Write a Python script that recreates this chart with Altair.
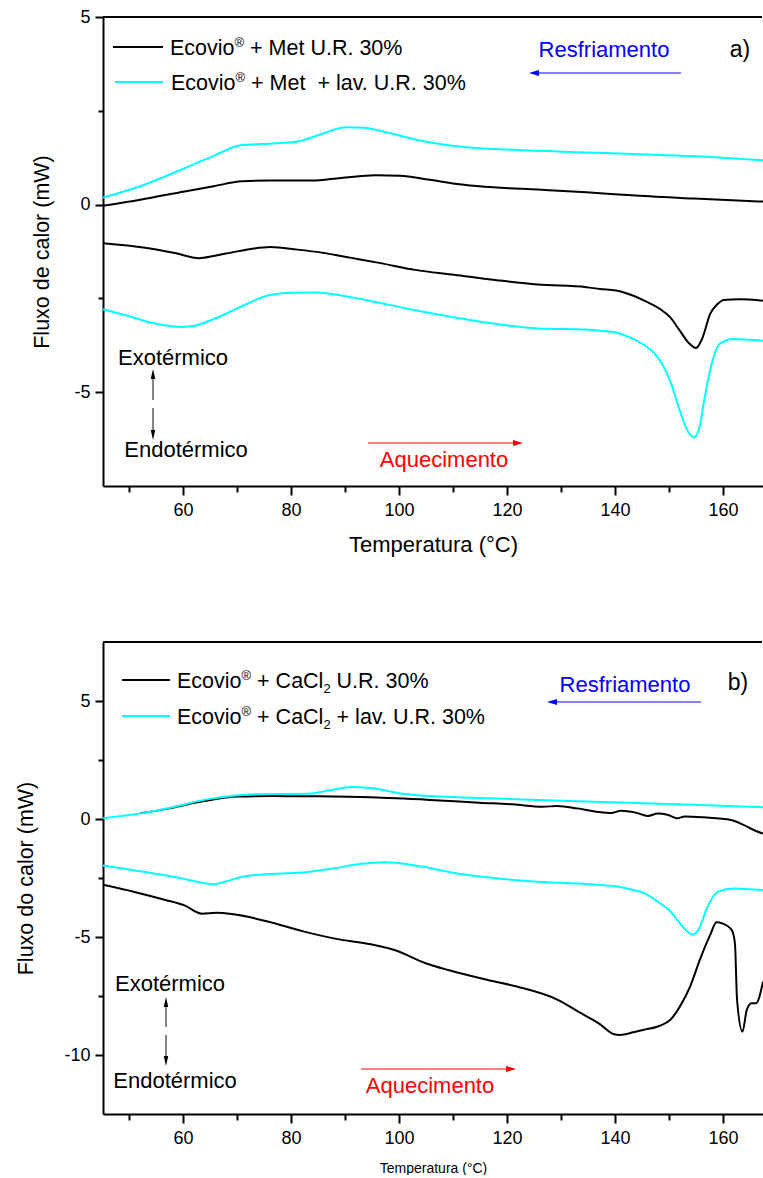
import altair as alt
import pandas as pd

FONT = "Liberation Sans"
BLACK, CYAN, BLUE, RED = "#000000", "#00ffff", "#0000ff", "#ff0000"

T_MIN, T_MAX = 45.2, 167.4
W = 660
HA, HB = 469, 472

# ---------------- panel a) ----------------
a_cool_met_T = [45.2, 52.1, 60.3, 65.7, 70.9, 75.7, 83.9, 89.3, 95.7, 100.2, 105.7, 112.0,
                117.5, 125.7, 134.7, 143.8, 154.7, 165.6, 167.4]
a_cool_met_Q = [-0.03, 0.13, 0.35, 0.49, 0.62, 0.64, 0.64, 0.71, 0.78, 0.77, 0.66, 0.53,
                0.46, 0.40, 0.33, 0.24, 0.16, 0.09, 0.08]
a_cool_lav_T = [45.2, 52.1, 60.3, 65.7, 70.7, 76.6, 81.2, 85.7, 90.2, 93.4, 98.4, 103.9,
                111.1, 121.1, 134.7, 148.4, 157.5, 167.4]
a_cool_lav_Q = [0.19, 0.49, 0.97, 1.30, 1.58, 1.63, 1.68, 1.88, 2.06, 2.05, 1.90, 1.71,
                1.55, 1.46, 1.39, 1.32, 1.27, 1.18]
a_heat_met_T = [45.2, 53.0, 58.5, 63.0, 65.7, 70.3, 76.2, 81.2, 85.7, 91.2, 96.6, 103.0,
                110.2, 118.4, 125.7, 134.7, 137.2, 140.2, 143.4, 146.0, 148.3, 150.2, 152.0,
                153.6, 155.0, 156.2, 157.6, 159.0, 160.1, 163.1, 167.4]
a_heat_met_Q = [-1.03, -1.15, -1.29, -1.43, -1.37, -1.24, -1.13, -1.20, -1.28, -1.42, -1.56, -1.74,
                -1.87, -2.02, -2.13, -2.20, -2.25, -2.29, -2.43, -2.60, -2.78, -3.00, -3.36,
                -3.68, -3.82, -3.55, -2.92, -2.65, -2.54, -2.52, -2.56]
a_heat_lav_T = [45.2, 49.4, 54.8, 59.8, 62.1, 65.7, 71.2, 75.7, 80.3, 84.8, 89.3, 94.8,
                101.1, 109.3, 117.5, 125.7, 134.7, 137.2, 140.5, 143.4, 145.5, 147.7, 150.2,
                152.0, 153.5, 154.6, 155.7, 156.4, 157.9, 159.4, 161.9, 167.4]
a_heat_lav_Q = [-2.79, -2.95, -3.17, -3.26, -3.23, -3.05, -2.69, -2.42, -2.35, -2.34, -2.42, -2.57,
                -2.76, -2.98, -3.17, -3.30, -3.33, -3.36, -3.42, -3.58, -3.75, -4.03, -4.69,
                -5.49, -6.05, -6.20, -5.90, -5.31, -4.25, -3.71, -3.58, -3.63]

# ---------------- panel b) ----------------
b_cool_cacl_T = [52.1, 57.5, 63.9, 70.3, 76.6, 84.8, 94.8, 105.7, 114.8, 121.1, 126.6, 129.3,
                 133.0, 136.6, 139.3, 141.1, 143.8, 146.1, 147.9, 149.7, 151.5, 152.9, 156.5,
                 161.5, 163.8, 166.1, 167.4]
b_cool_cacl_Q = [0.24, 0.45, 0.76, 0.95, 0.97, 0.96, 0.92, 0.81, 0.69, 0.62, 0.52, 0.55,
                 0.45, 0.31, 0.25, 0.35, 0.27, 0.13, 0.23, 0.18, 0.03, 0.11, 0.07,
                 -0.04, -0.25, -0.51, -0.62]
b_cool_lav_T = [45.2, 53.0, 58.5, 63.9, 69.4, 73.9, 83.0, 87.5, 91.2, 94.8, 101.1, 107.5,
                116.6, 125.7, 139.3, 152.9, 167.4]
b_cool_lav_Q = [0.03, 0.27, 0.52, 0.81, 0.99, 1.05, 1.07, 1.23, 1.36, 1.31, 1.06, 0.95,
                0.88, 0.81, 0.71, 0.61, 0.50]
b_heat_cacl_T = [45.2, 51.2, 56.6, 60.3, 63.5, 66.2, 69.4, 75.7, 82.1, 88.4, 94.8, 99.3,
                 104.8, 109.3, 116.6, 122.0, 129.3, 133.8, 137.2, 139.7, 140.9, 143.4, 145.2,
                 148.3, 150.2, 152.0, 153.9, 155.7, 157.6, 158.8, 159.8, 161.6, 162.2, 162.6,
                 163.6, 164.4, 165.3, 166.1, 167.4]
b_heat_cacl_Q = [-2.79, -3.10, -3.42, -3.66, -4.01, -3.97, -4.04, -4.34, -4.75, -5.08, -5.31, -5.56,
                 -6.10, -6.41, -6.83, -7.11, -7.65, -8.24, -8.69, -9.11, -9.15, -9.04, -8.94,
                 -8.76, -8.52, -7.95, -7.10, -5.97, -4.92, -4.38, -4.42, -4.70, -5.27, -7.67,
                 -9.01, -8.09, -7.81, -7.81, -6.89]
b_heat_lav_T = [45.2, 53.0, 60.3, 63.5, 65.7, 67.5, 71.2, 74.8, 82.1, 87.5, 93.0, 97.5,
                103.0, 111.1, 119.3, 127.5, 134.7, 137.2, 140.2, 143.4, 145.5, 148.3, 150.2,
                152.0, 154.4, 155.6, 157.0, 159.1, 161.9, 167.4]
b_heat_lav_Q = [-1.97, -2.25, -2.54, -2.70, -2.77, -2.68, -2.44, -2.35, -2.27, -2.11, -1.90, -1.83,
                -1.97, -2.32, -2.54, -2.68, -2.75, -2.80, -2.85, -3.01, -3.15, -3.57, -3.90,
                -4.42, -4.90, -4.63, -3.78, -3.08, -2.94, -3.01]

x_major = [60, 80, 100, 120, 140, 160]
x_minor = [50, 70, 90, 110, 130, 150]
a_y_major = [5, 0, -5]
a_y_minor = [2.5, -2.5]
b_y_major = [5, 0, -5, -10]
b_y_minor = [2.5, -2.5, -7.5]

legend_a1 = ["Ecovio", "®", " + Met U.R. 30%"]
legend_a2 = ["Ecovio", "®", " + Met", "  + lav. U.R. 30%"]
legend_b1 = ["Ecovio", "®", " + CaCl", "2", " U.R. 30%"]
legend_b2 = ["Ecovio", "®", " + CaCl", "2", " + lav. U.R. 30%"]

# Arial / Liberation Sans advance widths (per 1000 em)
ADV = {' ': 278, '+': 584, '.': 278, '%': 889, '0': 556, '2': 556, '3': 556,
       'A': 667, 'C': 722, 'E': 667, 'M': 833, 'R': 722, 'U': 722,
       'a': 556, 'c': 500, 'e': 556, 'i': 222, 'l': 222, 'm': 833, 'n': 556,
       'o': 556, 'r': 333, 's': 500, 't': 278, 'u': 556, 'v': 500, '®': 737}


def tw(s, size):
    return sum(ADV.get(ch, 556) for ch in s) * size / 1000.0


ONE = pd.DataFrame({"k": [0]})


def txt(x, y, s, size, color=BLACK, align="center", baseline="middle"):
    return alt.Chart(ONE).mark_text(text=s, font=FONT, fontSize=size, color=color,
                                    align=align, baseline=baseline).encode(
        x=alt.value(x), y=alt.value(y))


def seg(x1, x2, y1, y2, color=BLACK, width=2.0):
    return alt.Chart(ONE).mark_rule(color=color, strokeWidth=width).encode(
        x=alt.value(x1), x2=alt.value(x2), y=alt.value(y1), y2=alt.value(y2))


HEAD_L = "M-1,0L1,-0.6L1,0.6Z"
HEAD_R = "M1,0L-1,-0.6L-1,0.6Z"
HEAD_U = "M0,-1L-0.45,1L0.45,1Z"
HEAD_D = "M0,1L-0.45,-1L0.45,-1Z"


def head(x, y, shape, color=BLACK, size=100):
    return alt.Chart(ONE).mark_point(shape=shape, filled=True, size=size, color=color,
                                     opacity=1, strokeWidth=0).encode(
        x=alt.value(x), y=alt.value(y))


LEG = 21.5
SUP = 13
ANN = 22


def legend_row(xl0, xl1, y, color, xt, parts, kinds):
    out = [seg(xl0, xl1, y, y, color, 2)]
    x = xt
    base = y + 7.5
    for s, kind in zip(parts, kinds):
        size = LEG if kind == "n" else SUP
        dy = 0 if kind == "n" else (-8 if kind == "sup" else 5)
        lead = len(s) - len(s.lstrip(' '))
        core = s.strip(' ')
        x += tw(' ' * lead, size)
        out.append(txt(x, base + dy, core, size, align="left", baseline="alphabetic"))
        x += tw(core, size)
    return out


def direction_block(cx, exo_xy, endo_xy, up_tip, up_end, dn_start, dn_tip,
                    heat_x0, heat_x1, heat_y, heat_txt_xy,
                    cool_x0, cool_x1, cool_y, cool_txt_xy, tag, tag_xy):
    L = []
    L.append(txt(exo_xy[0], exo_xy[1], "Exotérmico", ANN))
    L.append(txt(endo_xy[0], endo_xy[1], "Endotérmico", ANN))
    L.append(seg(cx, cx, up_tip + 8, up_end, "#333333", 1.2))
    L.append(head(cx, up_tip + 5, HEAD_U))
    L.append(seg(cx, cx, dn_start, dn_tip - 8, "#333333", 1.2))
    L.append(head(cx, dn_tip - 5, HEAD_D))
    L.append(seg(heat_x0, heat_x1 - 8, heat_y, heat_y, "#ff5050", 1.6))
    L.append(head(heat_x1 - 5, heat_y, HEAD_R, RED))
    L.append(txt(heat_txt_xy[0], heat_txt_xy[1], "Aquecimento", ANN, RED))
    L.append(seg(cool_x0 + 8, cool_x1, cool_y, cool_y, "#5a5aff", 1.6))
    L.append(head(cool_x0 + 5, cool_y, HEAD_L, BLUE))
    L.append(txt(cool_txt_xy[0], cool_txt_xy[1], "Resfriamento", ANN, BLUE))
    L.append(txt(tag_xy[0], tag_xy[1], tag, 23))
    return L


def panel(series, ydom, H, ymaj, ymin, ytitle, ytitle_x, xtitle, xtitle_size, xtitle_y, extras):
    xs = alt.Scale(domain=[T_MIN, T_MAX], nice=False, zero=False)
    ys = alt.Scale(domain=ydom, nice=False, zero=False)
    x_main = alt.Axis(values=x_major, title=xtitle, titleFontSize=xtitle_size, titleY=xtitle_y,
                      titleBaseline="alphabetic", tickSize=9, labelPadding=6, grid=False,
                      orient="bottom", format="d")
    y_main = alt.Axis(values=ymaj, title=ytitle, titleFontSize=21.5, titleX=ytitle_x, titleY=H / 2,
                      titleBaseline="alphabetic", titleAngle=270, titleAlign="center",
                      tickSize=8, labelPadding=5, grid=False, orient="left",
                      labelExpr="'' + datum.value")
    x_min = alt.Axis(values=x_minor, labels=False, tickSize=6, domain=False, grid=False,
                     title=None, orient="bottom")
    y_min = alt.Axis(values=ymin, labels=False, tickSize=5, domain=False, grid=False,
                     title=None, orient="left")
    layers = []
    T0, Q0, _ = series[0]
    d0 = pd.DataFrame({"T": T0, "Q": Q0})
    layers.append(alt.Chart(d0).mark_line(opacity=0).encode(
        x=alt.X("T:Q", scale=xs, axis=x_min), y=alt.Y("Q:Q", scale=ys, axis=y_min)))
    for i, (T, Q, color) in enumerate(series):
        d = pd.DataFrame({"T": T, "Q": Q})
        layers.append(alt.Chart(d).mark_line(color=color, strokeWidth=2, interpolate="monotone",
                                             clip=True).encode(
            x=alt.X("T:Q", scale=xs, axis=x_main if i == 0 else None),
            y=alt.Y("Q:Q", scale=ys, axis=y_main if i == 0 else None)))
    layers.append(seg(0, W - 1, 0, 0, BLACK, 2))
    layers.extend(extras)
    return alt.layer(*layers).resolve_axis(x="independent", y="independent").properties(
        width=W, height=H)


extras_a = []
extras_a += legend_row(10, 60, 30, BLACK, 67, legend_a1, ["n", "sup", "n"])
extras_a += legend_row(12, 60, 65, CYAN, 68, legend_a2, ["n", "sup", "n", "n"])
extras_a += direction_block(50, (70, 341), (83, 433), 352, 383, 391, 423,
                            265, 420, 426, (341, 443),
                            426, 578, 56, (501, 33), "a)", (637, 33))

extras_b = []
extras_b += legend_row(19, 67, 38, BLACK, 74, legend_b1, ["n", "sup", "n", "sub", "n"])
extras_b += legend_row(19, 67, 74, CYAN, 74, legend_b2, ["n", "sup", "n", "sub", "n"])
extras_b += direction_block(63, (67, 342), (72, 439), 355, 385, 393, 424,
                            258, 413, 427, (327, 444),
                            444, 598, 60, (522, 43), "b)", (635, 41))

pa = panel([(a_cool_met_T, a_cool_met_Q, BLACK), (a_heat_met_T, a_heat_met_Q, BLACK),
            (a_cool_lav_T, a_cool_lav_Q, CYAN), (a_heat_lav_T, a_heat_lav_Q, CYAN)],
           [-7.5, 5], HA, a_y_major, a_y_minor, "Fluxo de calor (mW)", -55,
           "Temperatura (°C)", 22, 65, extras_a)
pb = panel([(b_cool_cacl_T, b_cool_cacl_Q, BLACK), (b_heat_cacl_T, b_heat_cacl_Q, BLACK),
            (b_cool_lav_T, b_cool_lav_Q, CYAN), (b_heat_lav_T, b_heat_lav_Q, CYAN)],
           [-12.5, 7.5], HB, b_y_major, b_y_minor, "Fluxo do calor (mW)", -71,
           "Temperatura (°C)", 14, 58, extras_b)

chart = alt.vconcat(pa, pb, spacing=86).properties(
    padding={"left": 15, "top": 8, "right": 0, "bottom": 0}, background="white"
).configure_view(stroke=None).configure_axis(
    labelFont=FONT, titleFont=FONT, labelFontSize=18, labelColor=BLACK, titleColor=BLACK,
    titleFontWeight="normal", domainColor=BLACK, domainWidth=2, tickColor=BLACK, tickWidth=2
)

chart.save("out.html", embed_options={"renderer": "svg", "actions": False})
